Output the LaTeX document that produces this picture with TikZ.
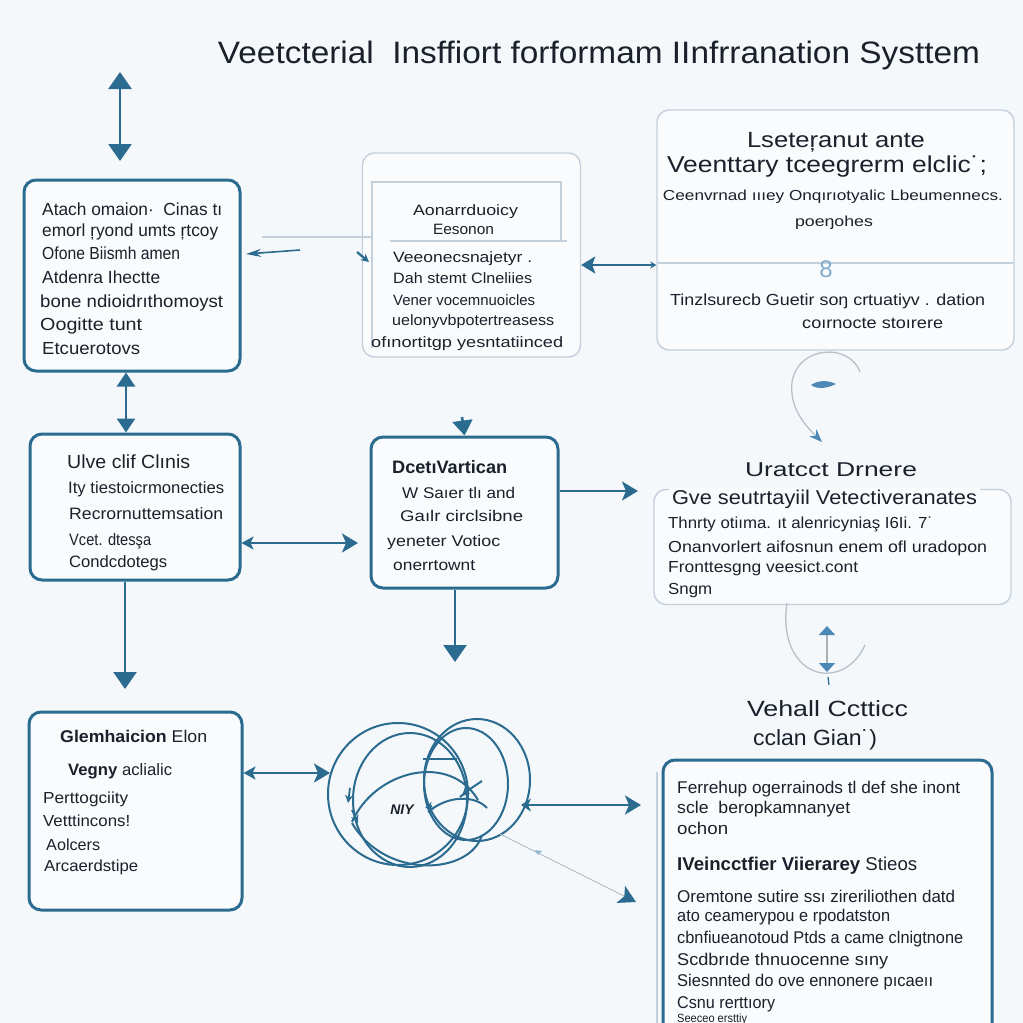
\documentclass[tikz,border=0pt]{standalone}
\usepackage{fontspec}
\setmainfont{Liberation Sans}
\usetikzlibrary{arrows.meta}
\definecolor{bg}{HTML}{F5F8FB}
\definecolor{boxfill}{HTML}{FAFBFD}
\definecolor{teal1}{HTML}{2A6B8F}
\definecolor{lightb}{HTML}{C3D0DC}
\definecolor{ink}{HTML}{1A212B}
\definecolor{paleblue}{HTML}{4C88B5}
% set a line of text to an exact width, keeping its height
\newcommand{\fw}[2]{\resizebox{#1}{\height}{#2}}
\newcommand{\fs}[1]{\fontsize{#1}{#1}\selectfont}
\tikzset{
  heavy/.style={draw=teal1, line width=3pt, rounded corners=12pt, fill=boxfill, inner sep=0pt},
  light/.style={draw=lightb, line width=1.4pt, rounded corners=12pt, fill=boxfill, inner sep=0pt},
  ln/.style={text=ink, inner sep=0pt, anchor=base west},
  lc/.style={text=ink, inner sep=0pt, anchor=base},
  conn/.style={draw=teal1, line width=2.6pt},
  tri/.tip={Triangle[length=17pt,width=23pt]},
  stl/.tip={Stealth[length=16pt,width=19pt,inset=4pt]},
  knot/.style={draw=teal1, line width=2pt},
}
\begin{document}
\begin{tikzpicture}[x=1pt,y=-1pt]
\useasboundingbox (0,0) rectangle (1023,1023);
\clip (0,0) rectangle (1023,1023);
\fill[bg] (0,0) rectangle (1023,1023);

% ---------- title ----------
\node[lc, font=\fs{31}] (title) at (599,63) {\fw{762pt}{Veetcterial\ \ Insffiort forformam IInfrranation Systtem}};

% ---------- boxes ----------
\node[heavy, minimum width=216pt, minimum height=191pt] (boxA) at (132,275.5) {};
\node[light, minimum width=218pt, minimum height=204pt] (boxM) at (471.5,255) {};
\node[light, minimum width=357pt, minimum height=240pt] (boxR) at (835.5,230) {};
\node[heavy, minimum width=210pt, minimum height=146pt] (boxB) at (135,507) {};
\node[heavy, minimum width=187pt, minimum height=151pt] (boxC) at (464.5,512.5) {};
\node[light, minimum width=357pt, minimum height=115pt] (boxR2) at (832.5,547) {};
\node[heavy, minimum width=213pt, minimum height=198pt] (boxD) at (135.5,811) {};
\node[heavy, minimum width=329pt, minimum height=280pt] (boxE) at (827.5,900) {};
\draw[lightb, line width=1.5pt] (657,772) -- (657,1023);

% inner frame of the middle card
\draw[lightb, line width=1.2pt] (372,348) -- (372,182) -- (561,182) -- (561,240);
\draw[lightb, line width=1.2pt] (390,241) -- (567,241);
% divider of the right card
\draw[lightb, line width=1.2pt] (658,263) -- (1013,263);

% ---------- box A text ----------
\begin{scope}[font=\fs{17.5}]
\node[ln] (a1) at (42,215) {\fw{180pt}{Atach omaion·\ \ Cinas tı}};
\node[ln] (a2) at (42,236) {\fw{176pt}{emorl ŗyond umts ŗtcoy}};
\node[ln] (a3) at (42,259) {\fw{138pt}{Ofone Biismh amen}};
\node[ln] (a4) at (42,283) {\fw{118pt}{Atdenra Ihectte}};
\node[ln] (a5) at (40,307) {\fw{183pt}{bone ndioidrıthomoyst}};
\node[ln] (a6) at (40,330) {\fw{102pt}{Oogitte tunt}};
\node[ln] (a7) at (42,354) {\fw{98pt}{Etcuerotovs}};
\end{scope}

% ---------- middle card text ----------
\begin{scope}[font=\fs{15}]
\node[lc] (m1) at (465.5,215) {\fw{105pt}{Aonarrduoicy}};
\node[lc] (m2) at (463.5,234) {\fw{61pt}{Eesonon}};
\node[ln] (m3) at (393,262) {\fw{139pt}{Veeonecsnajetyr .}};
\node[ln] (m4) at (393,283) {\fw{139pt}{Dah stemt Clneliies}};
\node[ln] (m5) at (393,305) {\fw{142pt}{Vener vocemnuoicles}};
\node[ln] (m6) at (392,325) {\fw{162pt}{uelonyvbpotertreasess}};
\node[ln] (m7) at (371,347) {\fw{192pt}{ofınortitgp yesntatiinced}};
\end{scope}

% ---------- right card text ----------
\node[lc, font=\fs{22}] (r1) at (836,147) {\fw{178pt}{Lseteŗanut ante}};
\node[lc, font=\fs{23}] (r2) at (827,172) {\fw{320pt}{Veenttary tceegrerm elclic˙;}};
\node[lc, font=\fs{14.5}] (r3) at (833,200) {\fw{340pt}{Ceenvrnad ıııey Onqırıotyalic Lbeumennecs.}};
\node[lc, font=\fs{14.5}] (r4) at (834,226) {\fw{78pt}{poeŋohes}};
\node[text=paleblue!70, inner sep=0pt, font=\fs{24}] (eight) at (826,269) {8};
\node[ln, font=\fs{16}] (r5) at (670,305) {\fw{315pt}{Tinzlsurecb Guetir soŋ crtuatiyv . dation}};
\node[ln, font=\fs{16}] (r6) at (802,328) {\fw{141pt}{coırnocte stoırere}};

% ---------- box B text ----------
\node[ln, font=\fs{19}] (b1) at (67,468) {\fw{123pt}{Ulve clif Clınis}};
\begin{scope}[font=\fs{16.5}]
\node[ln] (b2) at (68,493) {\fw{156pt}{Ity tiestoicrmonecties}};
\node[ln] (b3) at (69,519) {\fw{154pt}{Recrornuttemsation}};
\node[ln] (b4) at (69,545) {\fw{82pt}{Vcet. dtesşa}};
\node[ln] (b5) at (69,567) {\fw{98pt}{Condcdotegs}};
\end{scope}

% ---------- box C text ----------
\node[ln, font=\fs{18}\bfseries] (c1) at (392,473) {\fw{115pt}{DcetıVartican}};
\begin{scope}[font=\fs{15.5}]
\node[ln] (c2) at (402,498) {\fw{113pt}{W Saıer tlı and}};
\node[ln] (c3) at (400,521) {\fw{123pt}{Gaılr circlsibne}};
\node[ln] (c4) at (387,546) {\fw{113pt}{yeneter Votioc}};
\node[ln] (c5) at (393,570) {\fw{82pt}{onerrtownt}};
\end{scope}

% ---------- right middle card text ----------
\node[lc, font=\fs{20}] (u1) at (831,476) {\fw{172pt}{Uratcct Drnere}};
\node[lc, font=\fs{20}, fill=boxfill, inner xsep=3pt, inner ysep=2pt] (u2) at (824.5,504) {\fw{305pt}{Gve seutrtayiil Vetectiveranates}};
\begin{scope}[font=\fs{16}]
\node[ln] (u3) at (668,528) {\fw{265pt}{Thnrty otiıma. ıt alenricyniaş I6Ii. 7˙}};
\node[ln] (u4) at (668,552) {\fw{319pt}{Onanvorlert aifosnun enem ofl uradopon}};
\node[ln] (u5) at (668,572) {\fw{190pt}{Fronttesgng veesict.cont}};
\node[ln] (u6) at (668,594) {\fw{44pt}{Sngm}};
\end{scope}

% ---------- box D text ----------
\node[ln, font=\fs{17}] (d1) at (60,742) {\fw{147pt}{\textbf{Glemhaicion} Elon}};
\node[ln, font=\fs{16.5}] (d2) at (68,775) {\fw{104pt}{\textbf{Vegny} aclialic}};
\begin{scope}[font=\fs{16}]
\node[ln] (d3) at (43,803) {\fw{85pt}{Perttogciity}};
\node[ln] (d4) at (43,826) {\fw{87pt}{Vetttincons!}};
\node[ln] (d5) at (46,850) {\fw{54pt}{Aolcers}};
\node[ln] (d6) at (44,871) {\fw{94pt}{Arcaerdstipe}};
\end{scope}

% ---------- bottom right text ----------
\node[lc, font=\fs{22}] (e1) at (827.5,716) {\fw{161pt}{Vehall Cctticc}};
\node[lc, font=\fs{22}] (e2) at (815,745) {\fw{124pt}{cclan Gian˙)}};
\begin{scope}[font=\fs{17}]
\node[ln] (e3) at (677,793) {\fw{283pt}{Ferrehup ogerrainods tl def she inont}};
\node[ln] (e4) at (677,813) {\fw{173pt}{scle\ \ beropkamnanyet}};
\node[ln] (e5) at (677,834) {\fw{51pt}{ochon}};
\node[ln, font=\fs{18.5}] (e6) at (677,870) {\fw{240pt}{\textbf{IVeincctfier Viierarey} Stieos}};
\node[ln] (e7) at (677,902) {\fw{278pt}{Oremtone sutire ssı zireriliothen datd}};
\node[ln] (e8) at (677,921) {\fw{213pt}{ato ceamerypou e rpodatston}};
\node[ln] (e9) at (677,943) {\fw{286pt}{cbnfiueanotoud Ptds a came clnigtnone}};
\node[ln] (e10) at (677,965) {\fw{211pt}{Scdbrıde thnuocenne sıny}};
\node[ln] (e11) at (677,986) {\fw{256pt}{Siesnnted do ove ennonere pıcaeıı}};
\node[ln] (e12) at (677,1008) {\fw{98pt}{Csnu rerttıory}};
\node[ln, font=\fs{12}] (e13) at (677,1022) {\fw{70pt}{Seeceo ersttiy}};
\end{scope}

% ---------- connectors ----------
\coordinate (t1) at (120,72);
\coordinate (t2) at (120,161);
\draw[conn, tri-tri] (t1) -- (t2);

\draw[conn, {Triangle[length=14pt,width=18pt]}-{Triangle[length=14pt,width=18pt]}]
  ([xshift=-6pt]boxA.south) -- ([xshift=-9pt]boxB.north);

\coordinate (bd) at (125,689);
\draw[conn, -tri] ([xshift=-10pt]boxB.south) -- (bd);

\coordinate (bc) at (358,543);
\draw[conn, {Stealth[length=12pt,width=13pt,inset=3pt]}-stl] ([yshift=-36pt]boxB.east) -- (bc);

\coordinate (ct) at (462,417);
\draw[conn, -{Triangle[length=15pt,width=20pt]}] (ct) -- (boxC.north);

\coordinate (cr) at (638,491);
\draw[conn, -stl] ([yshift=21.5pt]boxC.east) -- (cr);

\coordinate (cd) at (455,662);
\draw[conn, -tri] ([xshift=-9.5pt]boxC.south) -- (cd);

\draw[conn, {Stealth[length=14pt,width=17pt,inset=3pt]}-{Stealth[length=6pt,width=7pt]}]
  ([yshift=-10pt]boxM.east) -- ([yshift=-35pt]boxR.west);

% faint links between the left box and the middle card
\coordinate (lf1) at (262,237);
\coordinate (lf2) at (371,237);
\draw[lightb, line width=1.1pt] (lf1) -- (lf2);
\coordinate (sa1) at (300,250);
\coordinate (sa2) at (246,254);
\draw[teal1, line width=1.6pt, -{Stealth[length=15pt,width=8pt]}] (sa1) -- (sa2);
\coordinate (sb1) at (357,252);
\coordinate (sb2) at (369,262);
\draw[teal1, line width=2.2pt, -{Stealth[length=8pt,width=8pt]}] (sb1) -- (sb2);

% loop under the right card
\coordinate (lp1) at (860,372);
\coordinate (lp2) at (822,442);
\draw[lightb!80!gray, line width=1.3pt, -{Stealth[length=13pt,width=10pt,color=paleblue]}]
  (lp1) .. controls (850,343) and (798,345) .. (792,382) .. controls (789,410) and (808,428) .. (lp2);
\fill[paleblue] (811,385) .. controls (818,380) and (828,380) .. (836,384) .. controls (828,388) and (818,390) .. cycle;

% loop above the lower right card
\coordinate (lq1) at (787,603);
\coordinate (lq2) at (865,645);
\draw[lightb!80!gray, line width=1.3pt] (lq1) .. controls (780,650) and (805,676) .. (830,673) .. controls (848,671) and (860,657) .. (lq2);
\coordinate (vq1) at (827,626);
\coordinate (vq2) at (827,672);
\draw[lightb!60!gray, line width=1.5pt, {Triangle[length=9pt,width=16pt,color=paleblue]}-{Triangle[length=9pt,width=16pt,color=paleblue]}] (vq1) -- (vq2);
\draw[teal1, line width=1.2pt] (828,677) -- (829,685);

% ---------- knot of rings ----------
\draw[knot] (398,794) ellipse[x radius=70pt, y radius=71pt];
\draw[knot] (410,800) ellipse[x radius=57pt, y radius=67pt];
\draw[knot] (477,780) ellipse[x radius=53pt, y radius=61pt];
\draw[knot] (466,784) ellipse[x radius=42pt, y radius=56pt];
\draw[knot] (352,822) .. controls (375,770) and (450,752) .. (478,800);
\draw[knot] (423,759) -- (457,759);
\draw[knot] (428,812) .. controls (448,795) and (475,795) .. (487,808);
\draw[knot] (352,823) .. controls (385,880) and (470,875) .. (482,835);
\draw[knot] (460,797) .. controls (468,790) and (476,785) .. (482,781);
\node[inner sep=0pt, text=ink, font=\fs{14}\bfseries\itshape] (niy) at (402,810) {NIY};
\draw[teal1, line width=1.8pt, -{Stealth[length=8pt,width=8pt]}] (350,788) -- (348,803);
\draw[teal1, line width=1.8pt, -{Stealth[length=8pt,width=8pt]}] (352,810) -- (358,823);
\draw[teal1, line width=1.8pt, -{Stealth[length=8pt,width=8pt]}] (432,806) -- (425,808);
\draw[teal1, line width=1.8pt, -{Stealth[length=8pt,width=8pt]}] (468,790) -- (462,796);

\coordinate (kw) at (330,773);
\draw[conn, {Stealth[length=12pt,width=13pt,inset=3pt]}-stl] ([yshift=38pt]boxD.east) -- (kw);

\coordinate (kr1) at (521,805);
\coordinate (kr2) at (641,805);
\draw[conn, {Stealth[length=10pt,width=13pt,inset=3pt]}-stl] (kr1) -- (kr2);

\coordinate (kd1) at (500,834);
\coordinate (kd2) at (636,902);
\draw[lightb!80!gray, line width=1.1pt, -{Stealth[length=17pt,width=19pt,inset=4pt,color=teal1]}] (kd1) -- (kd2);
\fill[paleblue!60] (535,850) -- (542,851) -- (538,855) -- cycle;
\end{tikzpicture}
\end{document}
